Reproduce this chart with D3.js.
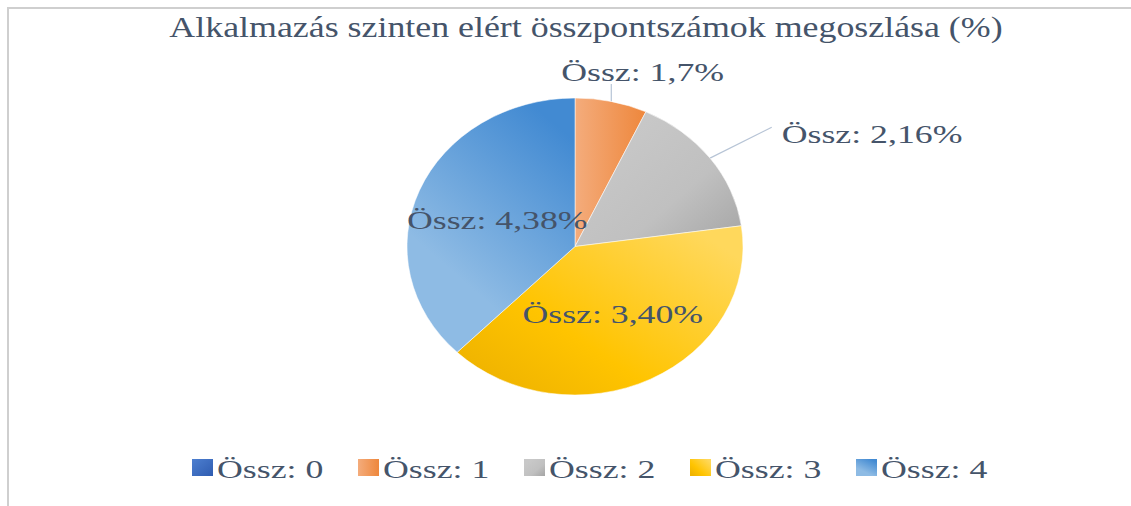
<!DOCTYPE html>
<html>
<head>
<meta charset="utf-8">
<script src="https://cdn.jsdelivr.net/npm/d3@7"></script>
<style>
  body { margin: 0; background: #fff; }
  svg { display: block; }
  text { font-family: "Liberation Serif", "Times New Roman", serif; fill: #45546a; }
</style>
</head>
<body>
<div id="chart"></div>
<script>
// data
var title = "Alkalmazás szinten elért összpontszámok megoszlása (%)";
var categories = ["Össz: 0", "Össz: 1", "Össz: 2", "Össz: 3", "Össz: 4"];
var values = [0, 7, 16, 40, 38];
var colorsLight = ["#4d7fd0", "#f4ac7c", "#c8c8c8", "#ffd85c", "#8ebbe4"];
var colorsDark = ["#2f5cb0", "#ee873c", "#a6a6a6", "#f0b400", "#428ad2"];

var width = 1131, height = 506;
var cx = 575, cy = 246.5, rx = 168, ry = 148.5;

var svg = d3.select("#chart").append("svg")
    .attr("width", width)
    .attr("height", height);

// frame (only top and left edges show in the crop)
svg.append("path")
    .attr("d", "M8,506 L8,8 L1131,8")
    .attr("fill", "none")
    .attr("stroke", "#cfcfcf")
    .attr("stroke-width", 2);

var defs = svg.append("defs");
// gradient direction per slice, in bounding box units
var gradDirs = [
    [0, 0, 1, 1],
    [0, 0.5, 1, 0.5],
    [0.2, 0.2, 1, 0.95],
    [0.95, 0.15, 0.1, 0.9],
    [0.3, 0.7, 0.7, 0.0]
];
categories.forEach(function(c, i) {
    var g = defs.append("linearGradient")
        .attr("id", "grad_" + i)
        .attr("x1", gradDirs[i][0]).attr("y1", gradDirs[i][1])
        .attr("x2", gradDirs[i][2]).attr("y2", gradDirs[i][3]);
    g.append("stop").attr("offset", "0%").attr("stop-color", colorsLight[i]);
    if (i == 2) {
        g.append("stop").attr("offset", "55%").attr("stop-color", "#c0c0c0");
    }
    if (i == 3) {
        g.append("stop").attr("offset", "65%").attr("stop-color", "#ffc400");
    }
    g.append("stop").attr("offset", "100%").attr("stop-color", colorsDark[i]);
});

function stretchText(sel, sx) {
    sel.each(function() {
        var w = this.getComputedTextLength();
        d3.select(this)
          .attr("textLength", w * sx)
          .attr("lengthAdjust", "spacingAndGlyphs");
    });
}

// title
svg.append("text")
    .attr("x", 586)
    .attr("y", 37)
    .attr("text-anchor", "middle")
    .style("font-size", "30px")
    .text(title)
    .call(stretchText, 1.195);

var pie = d3.pie().sort(null).value(function(d) { return d; });
var arcs = pie(values);
var arc = d3.arc().innerRadius(0).outerRadius(ry);

// point on the (elliptical) pie at angle a and radius fraction f
function pt(a, f) {
    return [cx + rx * f * Math.sin(a), cy - ry * f * Math.cos(a)];
}
function mid(d) { return (d.startAngle + d.endAngle) / 2; }

// leader lines for the two small slices (drawn under the pie)
var leaderG = svg.append("g");

var pieG = svg.append("g")
    .attr("transform", "translate(" + cx + "," + cy + ") scale(" + (rx / ry) + ",1)");

pieG.selectAll("path.slice")
    .data(arcs.filter(function(d) { return d.value > 0; }))
    .enter()
    .append("path")
      .attr("class", "slice")
      .attr("d", arc)
      .attr("fill", function(d) { return "url(#grad_" + d.index + ")"; })
      .attr("stroke", "#ffffff")
      .attr("stroke-width", 0.5);

function labelText(d) {
    return "Össz: " + d.index + "," + d.value + "%";
}

var labelG = svg.append("g");
var labelSize = "26px", labelStretch = 1.375;

// orange slice: label straight above
var d1 = arcs[1];
var e1 = pt(mid(d1), 1.0), o1 = pt(mid(d1), 1.12);
leaderG.append("line")
    .attr("x1", e1[0]).attr("y1", e1[1])
    .attr("x2", e1[0]).attr("y2", o1[1])
    .attr("stroke", "#b7c4d6").attr("stroke-width", 1.2);
labelG.append("text")
    .attr("x", o1[0] + 27)
    .attr("y", o1[1] - 3)
    .attr("text-anchor", "middle")
    .style("font-size", labelSize)
    .text(labelText(d1))
    .call(stretchText, labelStretch);

// gray slice: label up and to the right
var d2 = arcs[2];
var e2 = pt(mid(d2), 1.0), o2 = pt(mid(d2), 1.45);
leaderG.append("line")
    .attr("x1", e2[0]).attr("y1", e2[1])
    .attr("x2", o2[0] + 1).attr("y2", o2[1] + 9)
    .attr("stroke", "#b7c4d6").attr("stroke-width", 1.2);
labelG.append("text")
    .attr("x", o2[0] + 11)
    .attr("y", o2[1] + 25)
    .attr("text-anchor", "start")
    .style("font-size", labelSize)
    .text(labelText(d2))
    .call(stretchText, labelStretch);

// inner labels for the big slices
[arcs[3], arcs[4]].forEach(function(d) {
    var p = pt(mid(d), 0.5);
    labelG.append("text")
        .attr("x", p[0])
        .attr("y", p[1])
        .attr("dy", "0.4em")
        .attr("text-anchor", "middle")
        .style("font-size", labelSize)
        .text(labelText(d))
        .call(stretchText, labelStretch);
});

// legend
var legendX = d3.scalePoint().domain(categories).range([192, 856]);
var legend = svg.append("g").selectAll("g")
    .data(categories)
    .enter()
    .append("g")
      .attr("transform", function(d) { return "translate(" + legendX(d) + ",459)"; });
legend.append("rect")
    .attr("width", 21)
    .attr("height", 17)
    .attr("fill", function(d, i) { return "url(#grad_" + i + ")"; });
legend.append("text")
    .attr("x", 25)
    .attr("y", 19)
    .style("font-size", "25px")
    .text(function(d) { return d; })
    .call(stretchText, 1.43);
</script>
</body>
</html>
